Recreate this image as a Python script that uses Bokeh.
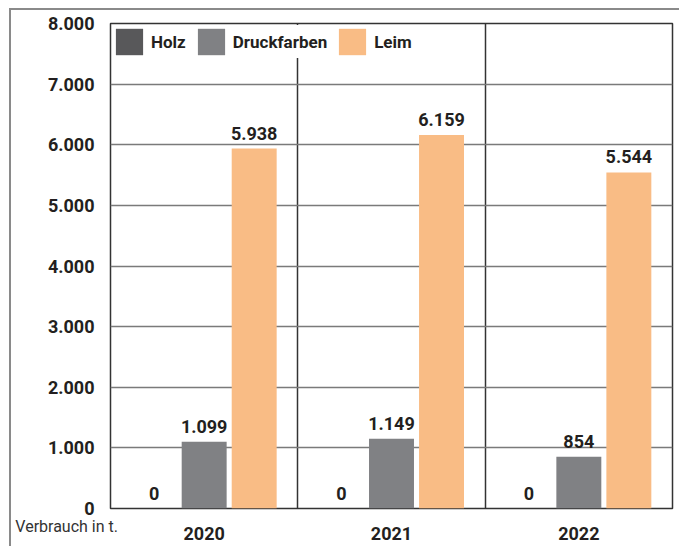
from bokeh.plotting import figure
from bokeh.models import (Range1d, FixedTicker, ColumnDataSource, Legend, LegendItem,
                          LinearAxis)
from bokeh.core.properties import value
from bokeh.embed import file_html
from bokeh.resources import INLINE

# ---- data ----
years = ["2020", "2021", "2022"]
series = ["Holz", "Druckfarben", "Leim"]
holz = [0, 0, 0]
druckfarben = [1099, 1149, 854]
leim = [5938, 6159, 5544]
y_ticks = [0, 1000, 2000, 3000, 4000, 5000, 6000, 7000, 8000]
x_title = "Verbrauch in t."

colors = ["#58585a", "#808184", "#f9bc85"]
FONT = "Roboto"
TXT = "#231f20"


def de(v):
    return f"{v:,}".replace(",", ".")


# outer frame starts at (9, 8) in the window; figure placed inside it
OX, OY = 11, 10
W, H = 681 - OX, 548 - OY
p = figure(width=W, height=H, x_range=Range1d(0, 3), y_range=Range1d(0, 8000),
           output_backend="svg", toolbar_location=None,
           min_border_left=110 - OX, min_border_right=9, min_border_top=23 - OY,
           min_border_bottom=40)
p.styles = {"margin-left": "9px", "margin-top": "8px",
            "border-left": "2px solid #8a8a8a", "border-top": "2px solid #8a8a8a"}
p.background_fill_color = "white"
p.border_fill_color = "white"
p.outline_line_color = "#333333"
p.outline_line_width = 1.5

# axes
p.yaxis.ticker = FixedTicker(ticks=y_ticks)
p.yaxis.major_label_overrides = {t: de(t) for t in y_ticks}
p.yaxis.axis_line_color = None
p.yaxis.major_tick_line_color = None
p.yaxis.minor_tick_line_color = None
p.yaxis.major_label_standoff = 10
p.yaxis.major_label_text_font = FONT
p.yaxis.major_label_text_font_style = "bold"
p.yaxis.major_label_text_font_size = "18px"
p.yaxis.major_label_text_color = TXT

centers = [i + 0.5 for i in range(len(years))]
p.xaxis.ticker = FixedTicker(ticks=centers)
p.xaxis.major_label_overrides = {c: y for c, y in zip(centers, years)}
p.xaxis.axis_line_color = None
p.xaxis.major_tick_line_color = None
p.xaxis.minor_tick_line_color = None
p.xaxis.major_label_standoff = 12
p.xaxis.major_label_text_font = FONT
p.xaxis.major_label_text_font_style = "bold"
p.xaxis.major_label_text_font_size = "18px"
p.xaxis.major_label_text_color = TXT

# second (outer) x axis carrying only the axis caption, pulled up to the year row
cap_axis = LinearAxis(ticker=FixedTicker(ticks=[0.04]),
                      major_label_overrides={0.04: x_title})
cap_axis.axis_line_color = None
cap_axis.major_tick_line_color = None
cap_axis.minor_tick_line_color = None
cap_axis.major_label_standoff = -22
cap_axis.major_label_orientation = 1e-9  # tiny angle -> labels right-aligned at the tick
cap_axis.major_label_text_font = FONT
cap_axis.major_label_text_font_size = "16px"
cap_axis.major_label_text_color = "#333333"
p.add_layout(cap_axis, "below")

# grids
p.ygrid.ticker = FixedTicker(ticks=y_ticks)
p.ygrid.grid_line_color = "#7a7a7a"
p.ygrid.grid_line_width = 1.5
p.xgrid.ticker = FixedTicker(ticks=list(range(1, len(years))))
p.xgrid.grid_line_color = "#333333"
p.xgrid.grid_line_width = 1.5

# bars
offsets = [-0.267, 0.0, 0.267]
bar_w = 0.24
items = []
all_vals = [holz, druckfarben, leim]
lx, ly, lt = [], [], []
for s, vals, off, col in zip(series, all_vals, offsets, colors):
    xs = [c + off for c in centers]
    src = ColumnDataSource(dict(x=xs, top=vals))
    r = p.vbar(x="x", top="top", width=bar_w, source=src, fill_color=col, line_color=None)
    items.append(LegendItem(label=s, renderers=[r]))
    lx += xs
    ly += vals
    lt += [de(v) for v in vals]

lsrc = ColumnDataSource(dict(x=lx, y=ly, t=lt))
p.text(x="x", y="y", text="t", source=lsrc, text_align="center", text_baseline="bottom",
       y_offset=-9, text_font=value(FONT), text_font_style="bold",
       text_font_size="18px", text_color=TXT)

legend = Legend(items=items, orientation="horizontal", location="top_left",
                glyph_width=34, glyph_height=33, label_standoff=5, spacing=8,
                margin=2, padding=3, background_fill_color="white", background_fill_alpha=1.0,
                border_line_color=None, label_text_font=FONT, label_text_font_style="bold",
                label_text_font_size="17px", label_text_color=TXT)
p.add_layout(legend)

open("out.html", "w").write(file_html(p, INLINE))
